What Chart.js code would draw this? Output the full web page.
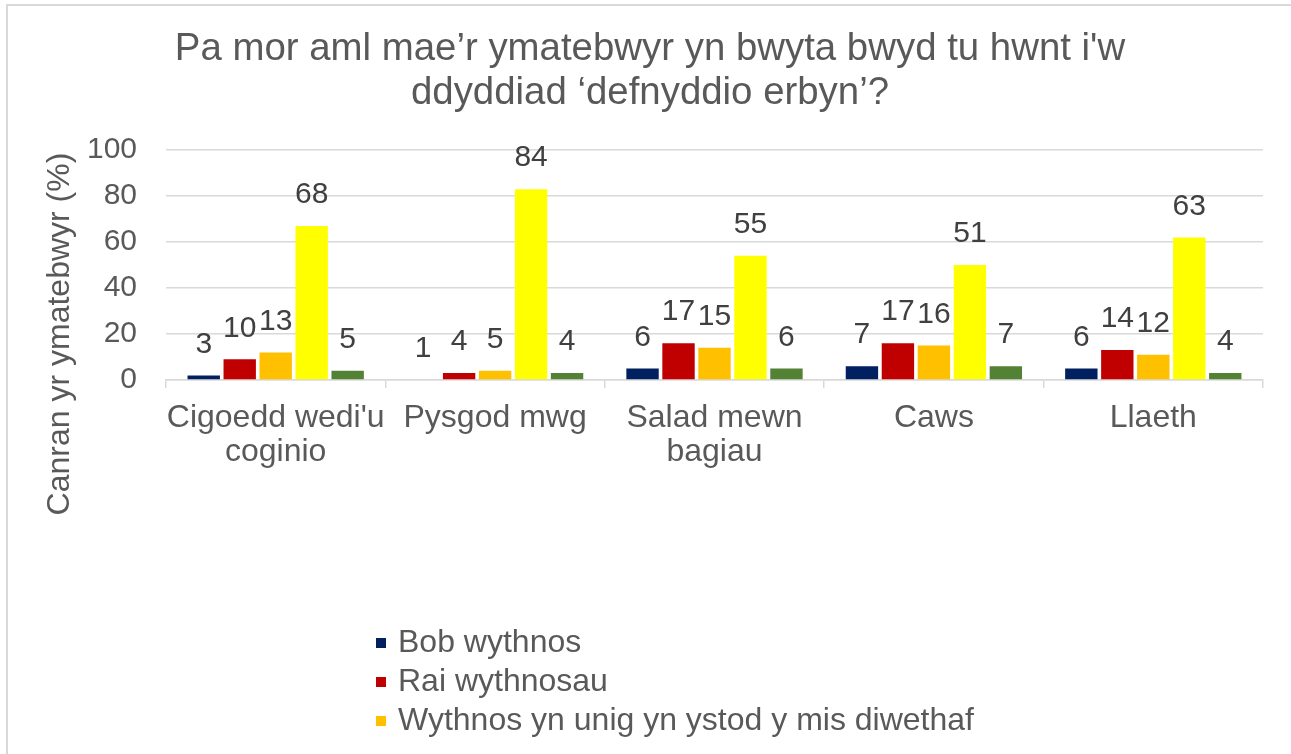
<!DOCTYPE html>
<html><head><meta charset="utf-8">
<script src="https://cdn.jsdelivr.net/npm/chart.js@4/dist/chart.umd.min.js"></script>
<style>html,body{margin:0;padding:0;background:#fff;} canvas{display:block;}</style>
</head><body>
<canvas id="c" width="1291" height="754"></canvas>
<script>
// ---- data ----
const titleLines = ["Pa mor aml mae’r ymatebwyr yn bwyta bwyd tu hwnt i'w", "ddyddiad ‘defnyddio erbyn’?"];
const yAxisTitle = "Canran yr ymatebwyr (%)";
const categories = [["Cigoedd wedi'u", "coginio"], ["Pysgod mwg"], ["Salad mewn", "bagiau"], ["Caws"], ["Llaeth"]];
const seriesNames = ["Bob wythnos", "Rai wythnosau", "Wythnos yn unig yn ystod y mis diwethaf", "Ddim yn ystod y mis diwethaf", "Ddim yn gwybod"];
// bar heights
const bobWythnos      = [2, 0, 5, 6, 5];
const raiWythnosau    = [9, 3, 16, 16, 13];
const wythnosYnUnig   = [12, 4, 14, 15, 11];
const ddimYnYstod     = [67, 83, 54, 50, 62];
const ddimYnGwybod    = [4, 3, 5, 6, 3];
// data labels as printed
const bobWythnosLbl    = [3, 1, 6, 7, 6];
const raiWythnosauLbl  = [10, 4, 17, 17, 14];
const wythnosYnUnigLbl = [13, 5, 15, 16, 12];
const ddimYnYstodLbl   = [68, 84, 55, 51, 63];
const ddimYnGwybodLbl  = [5, 4, 6, 7, 4];
const yMin = 0, yMax = 100, yStep = 20;
const legendShown = 3; // only the first three legend entries are visible

// ---- styles ----
const FONT = "'Liberation Sans', Arial, sans-serif";
const colors = ["#002060", "#c00000", "#ffc000", "#ffff00", "#548235"];
const textGrey = "#595959";
const labelGrey = "#404040";
const gridGrey = "#d9d9d9";

const seriesValues = [bobWythnos, raiWythnosau, wythnosYnUnig, ddimYnYstod, ddimYnGwybod];
const seriesLabels = [bobWythnosLbl, raiWythnosauLbl, wythnosYnUnigLbl, ddimYnYstodLbl, ddimYnGwybodLbl];

const framePlugin = {
  id: 'frame',
  beforeDraw(chart) {
    const ctx = chart.ctx;
    ctx.save();
    ctx.fillStyle = '#fff';
    ctx.fillRect(0, 0, chart.width, chart.height);
    ctx.strokeStyle = gridGrey;
    ctx.lineWidth = 2;
    ctx.strokeRect(7, 5, chart.width + 50, chart.height + 50);
    ctx.restore();
  }
};

const dataLabelPlugin = {
  id: 'dataLabels',
  afterDatasetsDraw(chart) {
    const ctx = chart.ctx;
    ctx.save();
    ctx.font = "30px " + FONT;
    ctx.fillStyle = labelGrey;
    ctx.textAlign = 'center';
    ctx.textBaseline = 'middle';
    chart.data.datasets.forEach((ds, di) => {
      const meta = chart.getDatasetMeta(di);
      meta.data.forEach((bar, i) => {
        ctx.fillText(String(seriesLabels[di][i]), bar.x, bar.y - 31);
      });
    });
    ctx.restore();
  }
};

const extrasPlugin = {
  id: 'extras',
  afterDraw(chart) {
    const ctx = chart.ctx;
    ctx.save();
    // y-axis title
    ctx.translate(60, 334);
    ctx.rotate(-Math.PI / 2);
    ctx.font = "32px " + FONT;
    ctx.fillStyle = textGrey;
    ctx.textAlign = 'center';
    ctx.textBaseline = 'middle';
    ctx.fillText(yAxisTitle, 0, 0);
    ctx.restore();
    // legend (vertical list, clipped)
    ctx.save();
    ctx.font = "32px " + FONT;
    ctx.textAlign = 'left';
    ctx.textBaseline = 'middle';
    chart.data.datasets.slice(0, legendShown).forEach((ds, i) => {
      const y = 643 + i * 39;
      ctx.fillStyle = ds.backgroundColor;
      ctx.fillRect(376, y - 5, 10, 10);
      ctx.fillStyle = textGrey;
      ctx.fillText(ds.label, 398, y);
    });
    ctx.restore();
  }
};

new Chart(document.getElementById('c'), {
  type: 'bar',
  data: {
    labels: categories,
    datasets: seriesValues.map((vals, i) => ({
      label: seriesNames[i],
      data: vals,
      backgroundColor: colors[i],
      borderWidth: 0,
      categoryPercentage: 0.82,
      barPercentage: 0.9
    }))
  },
  options: {
    responsive: false,
    animation: false,
    devicePixelRatio: 1,
    layout: { padding: { left: 9, right: 0, top: 0, bottom: 0 } },
    plugins: {
      legend: { display: false },
      tooltip: { enabled: false },
      title: {
        display: true,
        text: titleLines,
        color: textGrey,
        font: { family: FONT, size: 38.4, weight: 'normal', lineHeight: 1.15 },
        padding: { top: 27.5, bottom: 34.3 }
      }
    },
    scales: {
      x: {
        grid: { display: true, drawOnChartArea: false, drawTicks: true, tickLength: 8, color: gridGrey, lineWidth: 1.5, offset: true },
        border: { display: true, color: gridGrey, width: 1.5 },
        ticks: { color: textGrey, font: { family: FONT, size: 32, lineHeight: 1.06 }, padding: 13, maxRotation: 0, autoSkip: false },
        afterFit(s) { s.height = 374; }
      },
      y: {
        min: yMin, max: yMax,
        ticks: { stepSize: yStep, color: textGrey, font: { family: FONT, size: 30 }, padding: 29 },
        grid: { color: gridGrey, lineWidth: 1.5, drawTicks: false },
        border: { display: false },
        afterFit(s) { s.width = 157; }
      },
      y2: {
        position: 'right', display: true,
        grid: { display: false }, border: { display: false }, ticks: { display: false },
        afterFit(s) { s.width = 28; }
      }
    }
  },
  plugins: [framePlugin, dataLabelPlugin, extrasPlugin]
});
</script>
</body></html>
